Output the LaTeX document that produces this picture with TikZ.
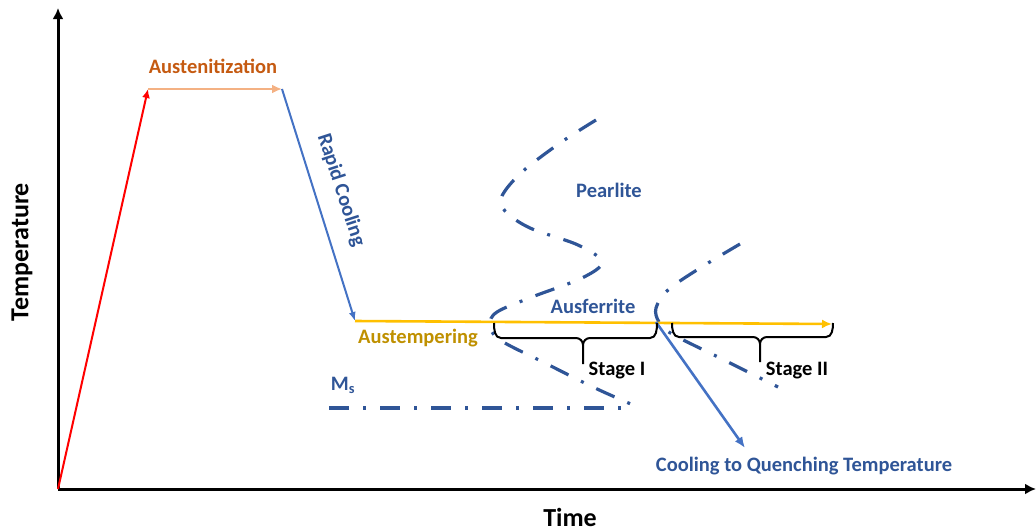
\documentclass[tikz,border=0pt]{standalone}
\usepackage{fontspec}
\setmainfont{Carlito}
\usetikzlibrary{arrows.meta}
\definecolor{peach}{HTML}{F4B183}
\definecolor{rust}{HTML}{C55A11}
\definecolor{midblue}{HTML}{4472C4}
\definecolor{darkblue}{HTML}{2F5597}
\definecolor{gold}{HTML}{FFC000}
\definecolor{darkgold}{HTML}{BF9000}
\tikzset{
  lbl/.style={font=\fontsize{20.5}{24}\selectfont\bfseries, inner sep=0pt},
  axlbl/.style={font=\fontsize{26}{30}\selectfont\bfseries, inner sep=0pt},
  ccurve/.style={darkblue, line width=3.2pt, dash pattern=on 20pt off 14pt on 3pt off 14pt},
  bracepath/.style={black, line width=2pt},
  axis/.style={black, line width=3pt, -{Latex[length=11pt,width=11pt]}}
}
\begin{document}
\begin{tikzpicture}[x=1pt,y=-1pt]
\useasboundingbox (0,0) rectangle (1036,531);
% key points
\coordinate (O) at (58,489);
\coordinate (ytip) at (58,8);
\coordinate (xtip) at (1036,489);
\coordinate (A) at (148,89);
\coordinate (B) at (282,89);
\coordinate (C) at (355,321);
\coordinate (D) at (832,324);
\coordinate (Q0) at (656,322);
\coordinate (Q1) at (745,448);
\coordinate (Ms0) at (329,408);
\coordinate (Ms1) at (628,408);
% axes
\draw[axis] (O) -- (ytip);
\draw[axis] (O) -- (xtip);
% heating
\draw[red, line width=2pt, -{Latex[length=9pt,width=8pt]}] (O) -- (A);
\draw[peach, line width=2.6pt, -{Latex[length=10pt,width=9pt]}] (A) -- (B);
\draw[midblue, line width=2pt, -{Latex[length=9pt,width=7pt]}] (B) -- (C);
% C-curves
\draw[ccurve] plot[smooth, tension=0.55] coordinates {(596,120) (560,143) (522,172) (502,196) (505,211) (530,228) (578,245) (602,262) (582,278) (532,297) (497,312) (490,325) (500,340) (545,363) (595,388) (640,408)};
\draw[ccurve] plot[smooth, tension=0.55] coordinates {(740,244) (700,268) (668,290) (656,308) (659,322) (672,334) (720,358) (778,387)};
\draw[ccurve] (Ms0) -- (Ms1);
% austempering
\draw[gold, line width=2.6pt, -{Latex[length=10pt,width=9pt]}] (C) -- (D);
% quench
\draw[midblue, line width=2.6pt, -{Latex[length=11pt,width=9pt]}] (Q0) -- (Q1);
% braces
\draw[bracepath] (494,323) to[out=-90,in=180] (501,338) -- (576,338) to[out=0,in=90] (583,345) -- (583,364);
\draw[bracepath] (583,345) to[out=90,in=180] (590,338) -- (650,338) to[out=0,in=-90] (657,323);
\draw[bracepath] (672,323) to[out=-90,in=180] (679,337) -- (753,337) to[out=0,in=90] (760,344) -- (760,362);
\draw[bracepath] (760,344) to[out=90,in=180] (767,337) -- (826,337) to[out=0,in=-90] (833,323);
% labels
\node[lbl, rust] (aus) at (213,66) {Austenitization};
\node[lbl, darkblue, rotate=-72] (rapid) at (341,190) {Rapid Cooling};
\node[lbl, darkblue] (pear) at (609,190) {Pearlite};
\node[lbl, darkblue] (ausf) at (593,306) {Ausferrite};
\node[lbl, darkgold] (austemp) at (418,338) {Austempering};
\node[lbl, black] (st1) at (617,371) {Stage I};
\node[lbl, black] (st2) at (797,371) {Stage II};
\node[lbl, darkblue] (ms) at (343,385) {M\textsubscript{s}};
\node[lbl, darkblue] (cool) at (804,466) {Cooling to Quenching Temperature};
\node[axlbl, rotate=90] (temp) at (22,252) {Temperature};
\node[axlbl] (time) at (570,517) {Time};
\end{tikzpicture}
\end{document}
